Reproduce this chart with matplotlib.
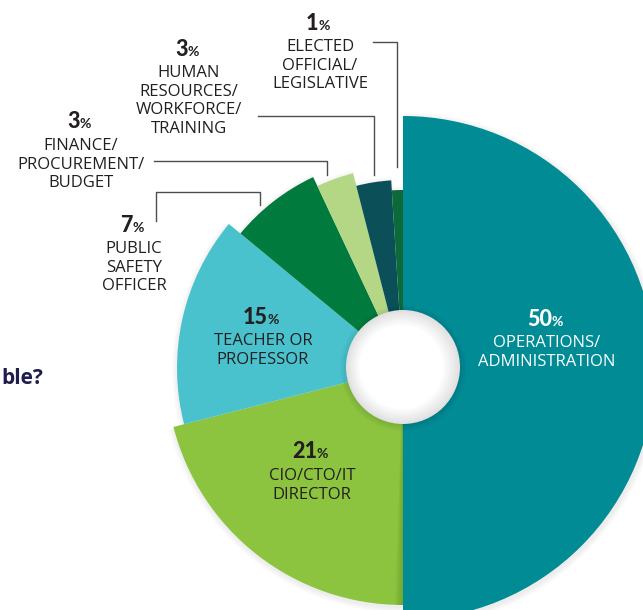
import numpy as np
import matplotlib.pyplot as plt
from matplotlib.patches import Wedge, Circle

# survey answers, clockwise from 12 o'clock
categories = ['OPERATIONS/\nADMINISTRATION', 'CIO/CTO/IT\nDIRECTOR', 'TEACHER OR\nPROFESSOR',
              'PUBLIC\nSAFETY\nOFFICER', 'FINANCE/\nPROCUREMENT/\nBUDGET',
              'HUMAN\nRESOURCES/\nWORKFORCE/\nTRAINING', 'ELECTED\nOFFICIAL/\nLEGISLATIVE']
shares = [50, 21, 15, 7, 3, 3, 1]

colors = ['#008b95', '#8cc43f', '#4ac2ce', '#007b3d', '#b3d785', '#0b5058', '#0c6a3a']
radii = [252, 237, 226, 211, 201, 188, 178]
text_colors = ['white', '#231f20', '#231f20', '#231f20', '#231f20', '#231f20', '#231f20']
# label anchor (x, y of the number) in pixels from the top-left
label_xy = [(545, 318), (310, 451), (261, 316), (132, 224), (79, 121), (187, 48), (318, 22)]

W, H = 643, 610
cx, cy = 403, H - 368
hole_r = 57
FONT = 'Open Sans'

fig = plt.figure(figsize=(W / 100, H / 100), dpi=100)
ax = fig.add_axes([0, 0, 1, 1])
ax.set_xlim(0, W)
ax.set_ylim(0, H)
ax.axis('off')

# slices run clockwise from the top, each with its own radius
ends = 90 - 360 * np.cumsum(shares) / sum(shares)
starts = np.r_[90, ends[:-1]]
for s, e, c, r in zip(starts, ends, colors, radii):
    # soft drop shadow
    for k in range(6):
        ax.add_patch(Wedge((cx + 1, cy - 2), r + 6 - k, e, s, facecolor='black',
                           edgecolor='none', alpha=0.012, zorder=1))
for s, e, c, r in zip(starts, ends, colors, radii):
    ax.add_patch(Wedge((cx, cy), r, e, s, facecolor=c, edgecolor='none', zorder=2))

# darker band on the green slice next to the big one
for k in range(10):
    ax.add_patch(Wedge((cx, cy), radii[1], -90 - 2.0 * (10 - k) / 10, -90,
                       facecolor='#3d6b1a', edgecolor='none', alpha=0.03, zorder=3))

# shaded hole
for r in np.linspace(hole_r + 6, hole_r, 6):
    ax.add_patch(Circle((cx, cy), r, facecolor='black', edgecolor='none', alpha=0.015, zorder=4))
for r, g in zip(np.linspace(hole_r, 42, 12), np.linspace(0.88, 1.0, 12)):
    ax.add_patch(Circle((cx - 1.5 * (1 - (r - 42) / (hole_r - 42)), cy + 1), r,
                        facecolor=(g, g, g), edgecolor='none', zorder=5))

renderer = fig.canvas.get_renderer()


def put_label(x, y, num, text, color):
    base = H - (y + 7.5)
    t1 = ax.text(0, base, num, fontsize=15.5, fontweight='black', family='Lato',
                 color=color, va='baseline', ha='left', zorder=6)
    t2 = ax.text(0, base, '%', fontsize=10, fontweight='bold', family='Lato',
                 color=color, va='baseline', ha='left', zorder=6)
    w1 = t1.get_window_extent(renderer).width
    w2 = t2.get_window_extent(renderer).width
    x0 = x - (w1 + w2) / 2
    t1.set_x(x0)
    t2.set_x(x0 + w1)
    for i, line in enumerate(text.split('\n')):
        yc = y + 23 + 18.7 * i
        ax.text(x + 2, H - (yc + 6), line, fontsize=12, family=FONT, color=color,
                ha='center', va='baseline', zorder=6)


for (x, y), n, t, c in zip(label_xy, shares, categories, text_colors):
    put_label(x, y, str(n), t, c)

# leader lines (pixel paths)
leaders = [
    [(156, 221), (156, 192), (260, 192), (260, 205)],
    [(154, 161), (327, 161), (327, 175)],
    [(258, 116), (374, 116), (374, 175)],
    [(373, 42), (397, 42), (397, 167)],
]
for path in leaders:
    xs, ys = zip(*path)
    ax.plot(xs, [H - v for v in ys], color='#4d4d4f', lw=1, zorder=6)

# tail of the question heading that is cut off on the left
ax.text(1, H - 384, 'ble?', fontsize=15, fontweight='bold', family=FONT,
        color='#1f1d4e', ha='left', va='baseline')

fig.savefig('out.png', dpi=100)
